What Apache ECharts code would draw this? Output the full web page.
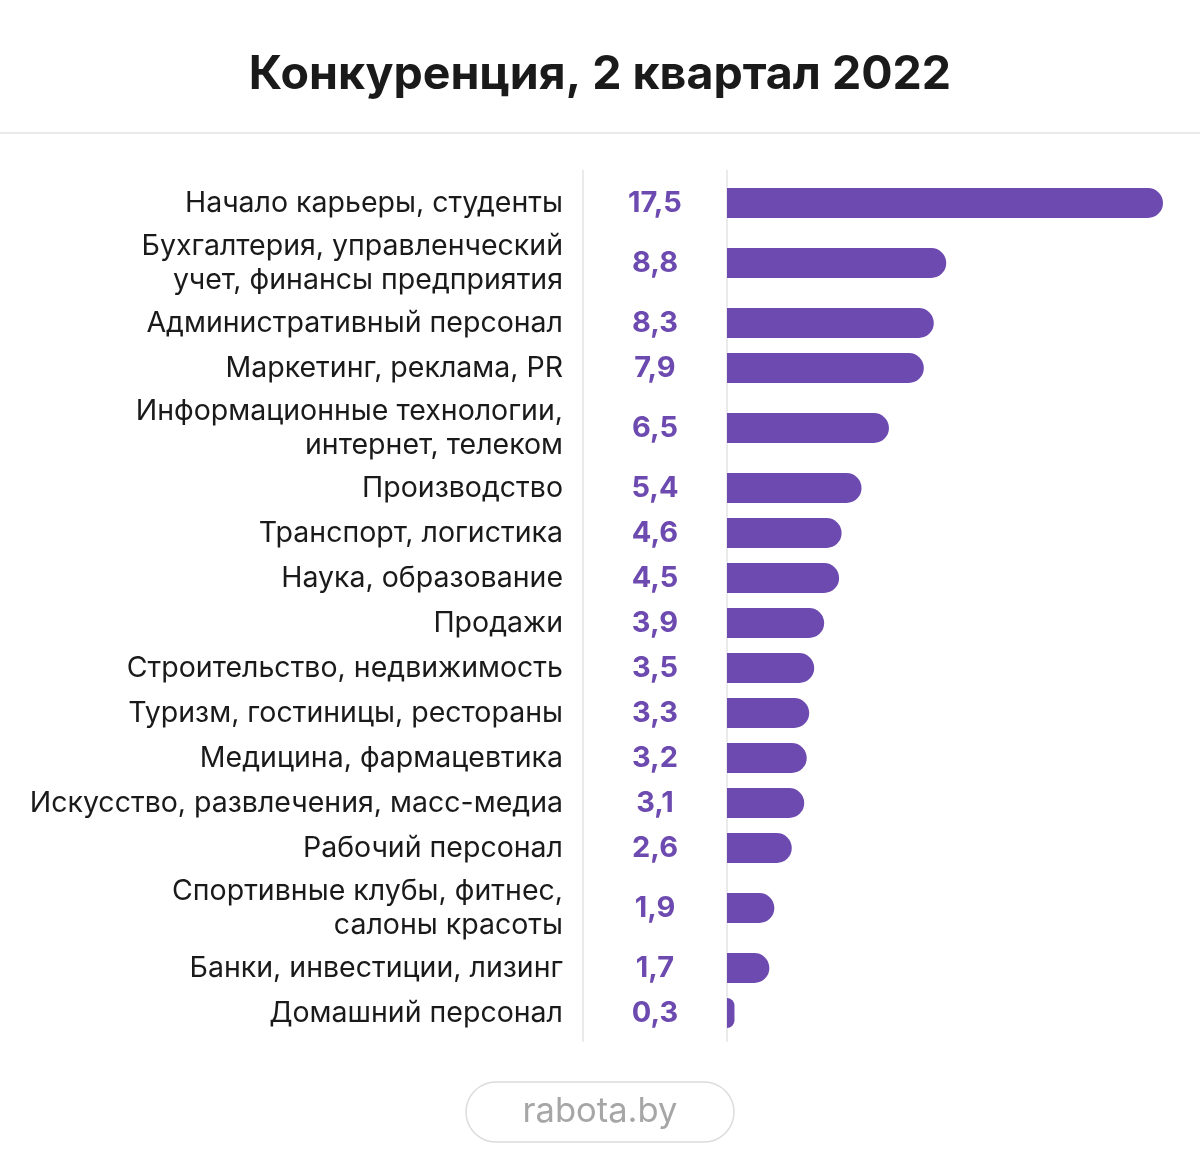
<!DOCTYPE html>
<html>
<head>
    <meta charset="utf-8">
    <script src="https://cdn.jsdelivr.net/npm/echarts@6/dist/echarts.min.js"></script>
    <style>
        html, body { margin: 0; padding: 0; background: #fff; }
        #main { width: 1200px; height: 1169px; }
    </style>
</head>
<body>
    <div id="main"></div>
    <script>
        // категории (перенос строки как на картинке)
        var categories = [
            'Начало карьеры, студенты',
            'Бухгалтерия, управленческий\nучет, финансы предприятия',
            'Административный персонал',
            'Маркетинг, реклама, PR',
            'Информационные технологии,\nинтернет, телеком',
            'Производство',
            'Транспорт, логистика',
            'Наука, образование',
            'Продажи',
            'Строительство, недвижимость',
            'Туризм, гостиницы, рестораны',
            'Медицина, фармацевтика',
            'Искусство, развлечения, масс-медиа',
            'Рабочий персонал',
            'Спортивные клубы, фитнес,\nсалоны красоты',
            'Банки, инвестиции, лизинг',
            'Домашний персонал'
        ];
        var values = [17.5, 8.8, 8.3, 7.9, 6.5, 5.4, 4.6, 4.5, 3.9, 3.5, 3.3, 3.2, 3.1, 2.6, 1.9, 1.7, 0.3];

        var FONT = 'Inter, "Noto Sans", sans-serif';
        var BAR = '#6c4ab0';

        // высота строки зависит от числа строк подписи
        var pos = [];
        var acc = 0;
        categories.forEach(function (c) {
            var h = c.indexOf('\n') >= 0 ? 75 : 45;
            pos.push(acc + h / 2);
            acc += h;
        });
        var total = acc;

        var myChart = echarts.init(document.getElementById('main'));

        var option = {
            backgroundColor: '#fff',
            animation: false,
            title: {
                text: 'Конкуренция, 2 квартал 2022',
                left: 'center',
                top: 47,
                textStyle: { fontFamily: FONT, fontSize: 46.5, fontWeight: 'bold', color: '#1a1a1a' }
            },
            grid: { left: 727, right: 37, top: 180.5, height: total },
            xAxis: { type: 'value', min: 0, max: 17.5, show: false },
            yAxis: { type: 'value', min: 0, max: total, inverse: true, show: false },
            graphic: [
                { type: 'line', shape: { x1: 0, y1: 133, x2: 1200, y2: 133 }, style: { stroke: '#e3e3e3', lineWidth: 1.5 } },
                { type: 'line', shape: { x1: 583, y1: 170, x2: 583, y2: 1042 }, style: { stroke: '#e3e3e3', lineWidth: 1.5 } },
                { type: 'line', shape: { x1: 727, y1: 170, x2: 727, y2: 1042 }, style: { stroke: '#e3e3e3', lineWidth: 1.5 } },
                {
                    type: 'rect', shape: { x: 466, y: 1082, width: 268, height: 60, r: 30 },
                    style: { fill: '#fff', stroke: '#dcdcdc', lineWidth: 1.5 }
                },
                {
                    type: 'text', x: 600, y: 1112,
                    style: { text: 'rabota.by', align: 'center', verticalAlign: 'middle', font: '34.5px ' + FONT, fill: '#a6a6a6' }
                }
            ],
            series: [{
                type: 'custom',
                data: values.map(function (v, i) { return [v, pos[i]]; }),
                renderItem: function (params, api) {
                    var i = params.dataIndex;
                    var start = api.coord([0, api.value(1)]);
                    var end = api.coord([api.value(0), api.value(1)]);
                    return {
                        type: 'group',
                        children: [
                            {
                                type: 'rect',
                                shape: { x: start[0], y: start[1] - 15, width: end[0] - start[0], height: 30, r: [0, 15, 15, 0] },
                                style: { fill: BAR }
                            },
                            {
                                type: 'text', x: start[0] - 164, y: start[1],
                                style: {
                                    text: categories[i], align: 'right', verticalAlign: 'middle',
                                    font: '28.5px ' + FONT, fill: '#1a1a1a', lineHeight: 34
                                }
                            },
                            {
                                type: 'text', x: start[0] - 72, y: start[1],
                                style: {
                                    text: String(values[i]).replace('.', ','), align: 'center', verticalAlign: 'middle',
                                    font: 'bold 29px ' + FONT, fill: BAR
                                }
                            }
                        ]
                    };
                }
            }]
        };

        myChart.setOption(option);
    </script>
</body>
</html>
